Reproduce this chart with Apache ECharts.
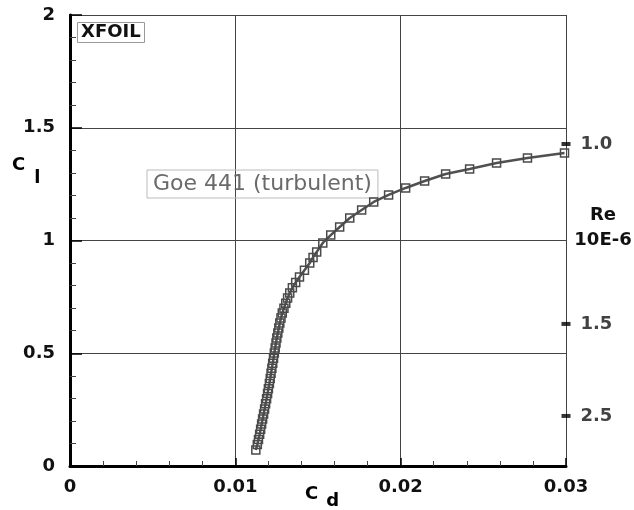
<!DOCTYPE html>
<html>
<head>
<meta charset="utf-8">
<script src="https://cdn.jsdelivr.net/npm/echarts@6/dist/echarts.min.js"></script>
<style>
html,body{margin:0;padding:0;background:#fff;}
#chart{width:634px;height:510px;}
</style>
</head>
<body>
<div id="chart"></div>
<script>
// Goe 441 polar, XFOIL turbulent run
let seriesName = 'Goe 441 (turbulent)';
let clValues = [0.071,0.095,0.118,0.141,0.163,0.186,0.208,0.231,0.253,0.276,0.298,0.321,0.343,0.366,0.388,0.411,0.433,0.456,0.478,0.501,
  0.523,0.546,0.568,0.590,0.612,0.634,0.656,0.678,0.700,0.722,0.745,0.767,0.790,0.814,0.838,0.868,0.900,0.925,0.949,0.989,
  1.024,1.060,1.100,1.135,1.171,1.202,1.233,1.264,1.295,1.317,1.344,1.366,1.388];
let cdValues = [0.01124,0.01133,0.01140,0.01147,0.01153,0.01159,0.01165,0.01171,0.01177,0.01183,0.01189,0.01195,0.01200,0.01206,0.01211,0.01216,0.01221,0.01226,0.01231,0.01236,
  0.01241,0.01246,0.01251,0.01257,0.01263,0.01269,0.01276,0.01284,0.01294,0.01305,0.01316,0.01329,0.01345,0.01365,0.01388,0.01418,0.01450,0.01470,0.01492,0.01529,
  0.01577,0.01631,0.01692,0.01764,0.01837,0.01927,0.02030,0.02145,0.02272,0.02417,0.02580,0.02767,0.02991];
// Reynolds number marks on the right edge (label, Cl position)
let reLabels = ['1.0','1.5','2.5'];
let reCl = [1.428,0.630,0.222];

let font = "'DejaVu Sans', sans-serif";
let chart = echarts.init(document.getElementById('chart'));

let polar = [];
for (let i = 0; i < clValues.length; i++) {
  polar.push([cdValues[i], clValues[i]]);
}
let reMarks = reCl.map(function(y){ return [0.03, y]; });

let labelStyle = {fontSize:18, fontWeight:'bold', fontFamily:font, color:'#111'};
// C with a lowered subscript letter
function subRich(drop, gap) {
  return {
    c:{fontSize:18, fontWeight:'bold', fontFamily:font, color:'#111'},
    s:{fontSize:18, fontWeight:'bold', fontFamily:font, color:'#111', padding:[drop,0,0,gap]}
  };
}

let option = {
  animation:false,
  title:{
    text:'XFOIL', left:77, top:22, padding:[1,4],
    borderColor:'#999', borderWidth:1,
    textStyle:{fontSize:18, fontWeight:'bold', fontFamily:font, color:'#111', lineHeight:19}
  },
  legend:{
    data:[seriesName], left:147, top:170, icon:'none', itemWidth:0, itemGap:0,
    padding:[3,6,3,1], borderColor:'#bbb', borderWidth:1,
    textStyle:{fontSize:22, fontFamily:font, color:'#6a6a6a'}
  },
  grid:{left:70, right:68, top:15, bottom:44, outerBoundsMode:'none', containLabel:false},
  xAxis:[
    {
      type:'value', min:0, max:0.03, interval:0.01, position:'bottom',
      axisLine:{show:true, onZero:false, lineStyle:{color:'#000', width:3}},
      axisTick:{show:true, inside:true, length:8, lineStyle:{color:'#000', width:1.5}},
      minorTick:{show:true, splitNumber:5, length:5, lineStyle:{color:'#444'}},
      axisLabel:Object.assign({margin:12}, labelStyle),
      splitLine:{show:true, lineStyle:{color:'#444', width:1}}
    },
    {
      type:'value', min:0, max:0.03, position:'top',
      axisLine:{show:true, lineStyle:{color:'#000', width:2}},
      axisTick:{show:false}, axisLabel:{show:false}, splitLine:{show:false}
    }
  ],
  yAxis:[
    {
      type:'value', min:0, max:2, interval:0.5, position:'left',
      axisLine:{show:true, onZero:false, lineStyle:{color:'#000', width:3}},
      axisTick:{show:true, inside:true, length:12, lineStyle:{color:'#000', width:1.5}},
      minorTick:{show:true, splitNumber:5, length:6, lineStyle:{color:'#444'}},
      axisLabel:Object.assign({margin:15}, labelStyle),
      splitLine:{show:true, lineStyle:{color:'#444', width:1}}
    },
    {
      type:'value', min:0, max:2, position:'right',
      axisLine:{show:true, lineStyle:{color:'#000', width:2}},
      axisTick:{show:false}, axisLabel:{show:false}, splitLine:{show:false}
    }
  ],
  graphic:[
    {type:'text', left:12, top:156, style:{text:'{c|C}{s|l}', rich:subRich(26, 9)}},
    {type:'text', left:305, top:485, style:{text:'{c|C}{s|d}', rich:subRich(14, 8)}},
    {type:'text', x:603, y:203, style:{text:'Re\n10E-6', align:'center', verticalAlign:'top',
      fontSize:18, fontWeight:'bold', fontFamily:font, fill:'#111', lineHeight:25}}
  ],
  series:[
    {
      name:seriesName, type:'line', data:polar, z:5,
      symbol:'rect', symbolSize:8,
      lineStyle:{color:'#505050', width:2.5},
      itemStyle:{color:'rgba(255,255,255,0)', borderColor:'#4a4a4a', borderWidth:1.5}
    },
    {
      type:'scatter', data:reMarks, clip:false, z:6,
      symbol:'rect', symbolSize:[9,4],
      itemStyle:{color:'#000'},
      label:Object.assign({show:true, position:'right', distance:10,
        formatter:function(p){ return reLabels[p.dataIndex]; }}, labelStyle)
    }
  ]
};
window.onresize = chart.resize;
chart.setOption(option);
</script>
</body>
</html>
